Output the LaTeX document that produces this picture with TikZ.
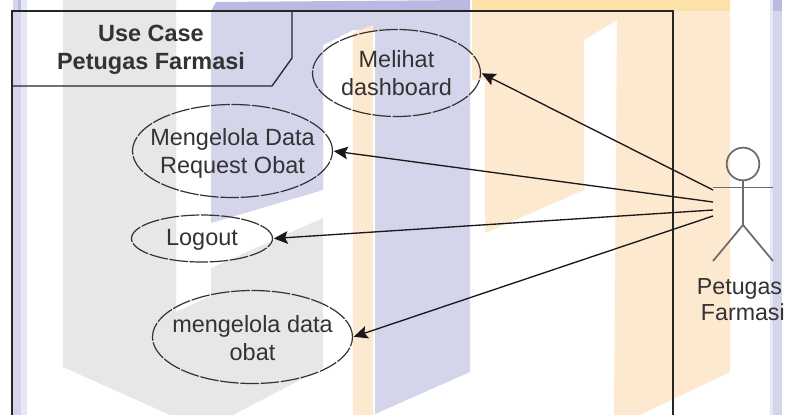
\documentclass[tikz,border=0pt]{standalone}
\usepackage{fontspec}
\setmainfont{Liberation Sans}
\usetikzlibrary{shapes.geometric,arrows.meta}
\definecolor{wgray}{HTML}{E7E7E7}
\definecolor{wblue}{HTML}{D4D5EA}
\definecolor{wbluetop}{HTML}{B9BAE2}
\definecolor{worange}{HTML}{FDE8D0}
\definecolor{worangetop}{HTML}{FDE2A8}
\definecolor{wstrip}{HTML}{E6E6F6}
\definecolor{ink}{HTML}{333333}
\tikzset{
  lbl/.style={font=\fontsize{17.6}{21}\selectfont,text=ink,align=center,inner sep=0pt},
  ucase/.style n args={2}{ellipse,draw=ink,line width=0.9pt,inner sep=0pt,
     minimum width=#1*0.75pt,minimum height=#2*0.75pt,dash pattern=on 14pt off 1.2pt},
  edge/.style={draw=black!90,line width=1pt,-{Stealth[length=10.5pt,width=9.5pt,inset=2pt]},shorten >=0.5pt},
  frameln/.style={draw=black!85,line width=1pt},
  stick/.style={draw=black!58,line width=1.3pt},
  wm/.style={line width=0pt}
}
\begin{document}
\begin{tikzpicture}[x=0.75pt,y=-0.75pt]
\useasboundingbox (0,0) rectangle (785,415);
\fill[white] (0,0) rectangle (785,415);
% watermark: grey
\fill[wgray,wm] (63,0) -- (176,0) -- (176,312) -- (211,296) -- (211,268) -- (323,218) -- (323,368) -- (233,415) -- (170,415) -- (63,367) -- cycle;
% watermark: blue
\fill[wblue,wm] (211,11) -- (470,11) -- (470,372) -- (375,414) -- (375,30) -- (353,30) -- (323,45) -- (323,190) -- (211,223) -- cycle;
\fill[wbluetop,wm] (216,2) -- (470,0) -- (470,11) -- (211,11) -- cycle;
% watermark: orange
\fill[worange,wm] (353,33) -- (373,25) -- (373,415) -- (353,415) -- cycle;
\fill[worange,wm] (472,11) -- (730,11) -- (730,372) -- (640,415) -- (614,415) -- (617,20) -- (584,40) -- (584,190) -- (485,233) -- (485,80) -- (472,80) -- cycle;
\fill[worangetop,wm] (472,0) -- (730,0) -- (730,11) -- (472,11) -- cycle;
% watermark: side strips
\fill[wstrip,wm] (13,0) rectangle (27,415);
\fill[wblue,wm] (13,0) rectangle (21,415);
\fill[wstrip,wm] (770,0) rectangle (773,415);
\fill[wblue,wm] (773,0) rectangle (782,415);
\fill[wbluetop,wm] (773,0) rectangle (782,11);
\fill[wbluetop,wm] (18,0) rectangle (21,11);
% system frame
\draw[frameln] (12,415) -- (12,11) -- (673,11) -- (673,415);
\draw[frameln] (12,86) -- (272,86) -- (292,58) -- (292,11);
\node[lbl,font=\fontsize{17.6}{21}\selectfont\bfseries] (title) at (151,50) {Use Case\\Petugas Farmasi};
% use cases
\node[ucase={168}{87},label={[lbl]center:Melihat\\dashboard}] (melihat) at (396.5,73) {};
\node[ucase={200}{93},label={[lbl,yshift=-1.5pt]center:Mengelola Data\\Request Obat}] (request) at (232.5,151) {};
\node[ucase={141}{47},label={[lbl,yshift=-0.7pt]center:Logout}] (logout) at (202,238.5) {};
\node[ucase={200}{93},label={[lbl,yshift=-0.7pt]center:mengelola data\\obat}] (obat) at (252.5,337) {};
% actor
\node[circle,stick,inner sep=0pt,minimum size=24.5pt] (head) at (743,164) {};
\coordinate (hip) at (743,225);
\coordinate (armL) at (713,187.5);
\coordinate (armR) at (773,187.5);
\coordinate (legL) at (713,261);
\coordinate (legR) at (773,261);
\draw[stick] (head.south) -- (hip);
\draw[stick] (armL) -- (armR);
\draw[stick] (legL) -- (hip) -- (legR);
\node[lbl,font=\fontsize{17.4}{20}\selectfont] (actor) at (739.5,299.5) {Petugas\\\hspace*{5pt}Farmasi};
% connectors
\coordinate (s1) at (713,190);
\coordinate (s2) at (713,202);
\coordinate (s3) at (713,210);
\coordinate (s4) at (713,216);
\draw[edge] (s1) -- (melihat.east);
\draw[edge] (s2) -- (request.east);
\draw[edge] (s3) -- (logout.east);
\draw[edge] (s4) -- (obat.east);
\end{tikzpicture}
\end{document}
